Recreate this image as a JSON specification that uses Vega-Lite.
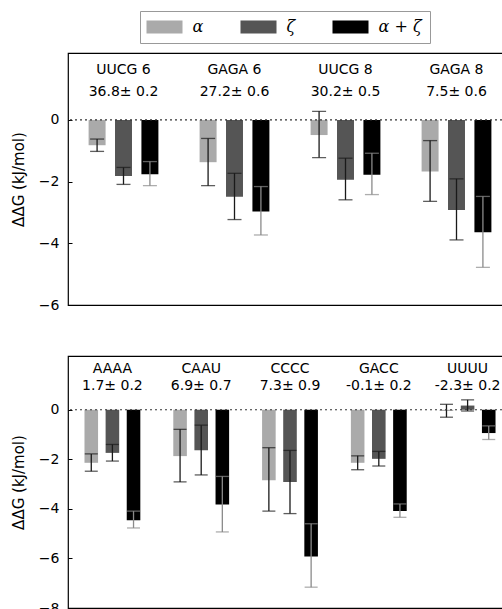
{
  "$schema": "https://vega.github.io/schema/vega-lite/v6.json",
  "padding": {"left": 10, "top": 10, "right": 0, "bottom": 0},
  "background": "white",
  "config": {
    "font": "DejaVu Sans",
    "view": {"stroke": "#000", "strokeWidth": 1.2},
    "axisY": {
      "domain": false, "grid": false, "tickSize": -4, "tickColor": "#000", "tickWidth": 1,
      "labelFontSize": 14, "labelColor": "#000", "labelPadding": 13,
      "titleFontSize": 15, "titleFontWeight": "normal", "titleColor": "#000", "titlePadding": 12
    },
    "legend": {
      "orient": "none", "legendX": 72, "legendY": -42, "direction": "horizontal", "columns": 3,
      "symbolType": "M-2.77,-1H2.77V1H-2.77Z", "symbolSize": 169, "symbolStrokeWidth": 0, "symbolOffset": 8.5,
      "columnPadding": 36, "labelOffset": 20,
      "labelFont": "DejaVu Serif", "labelFontStyle": "italic", "labelFontSize": 16, "labelColor": "#000",
      "strokeColor": "#999", "fillColor": "#fff", "padding": 8, "cornerRadius": 0
    }
  },
  "spacing": 42,
  "resolve": {"scale": {"x": "independent", "y": "independent", "xOffset": "independent"}},
  "vconcat": [
    {
      "width": 444, "height": 252,
      "layer": [
        {
          "data": {"values": [
            {"group": "UUCG 6", "series": "α", "value": -0.82, "lo": -1.02, "hi": -0.62},
            {"group": "UUCG 6", "series": "ζ", "value": -1.82, "lo": -2.09, "hi": -1.54},
            {"group": "UUCG 6", "series": "α + ζ", "value": -1.76, "lo": -2.13, "hi": -1.35},
            {"group": "GAGA 6", "series": "α", "value": -1.37, "lo": -2.13, "hi": -0.60},
            {"group": "GAGA 6", "series": "ζ", "value": -2.49, "lo": -3.23, "hi": -1.73},
            {"group": "GAGA 6", "series": "α + ζ", "value": -2.97, "lo": -3.73, "hi": -2.16},
            {"group": "UUCG 8", "series": "α", "value": -0.49, "lo": -1.22, "hi": 0.28},
            {"group": "UUCG 8", "series": "ζ", "value": -1.94, "lo": -2.59, "hi": -1.24},
            {"group": "UUCG 8", "series": "α + ζ", "value": -1.78, "lo": -2.42, "hi": -1.08},
            {"group": "GAGA 8", "series": "α", "value": -1.67, "lo": -2.64, "hi": -0.67},
            {"group": "GAGA 8", "series": "ζ", "value": -2.92, "lo": -3.89, "hi": -1.91},
            {"group": "GAGA 8", "series": "α + ζ", "value": -3.64, "lo": -4.78, "hi": -2.48}
          ]},
          "layer": [
            {
              "mark": {"type": "bar"},
              "encoding": {
                "x": {"field": "group", "type": "nominal", "axis": null, "scale": {"domain": ["UUCG 6", "GAGA 6", "UUCG 8", "GAGA 8"], "paddingInner": 0, "paddingOuter": 0}},
                "xOffset": {"field": "series", "type": "nominal", "scale": {"domain": ["α", "ζ", "α + ζ"], "paddingInner": 0.357, "paddingOuter": 0.78}},
                "y": {"field": "value", "type": "quantitative", "title": "ΔΔG (kJ/mol)", "scale": {"domain": [-6, 2.17], "nice": false, "zero": false}, "axis": {"values": [-6, -4, -2, 0]}},
                "color": {"field": "series", "type": "nominal", "title": null, "scale": {"domain": ["α", "ζ", "α + ζ"], "range": ["#aaaaaa", "#555555", "#000000"]}}
              }
            },
            {
              "mark": {"type": "rule", "strokeWidth": 1.3},
              "encoding": {
                "x": {"field": "group", "type": "nominal"},
                "xOffset": {"field": "series", "type": "nominal"},
                "y": {"field": "lo", "type": "quantitative", "title": "ΔΔG (kJ/mol)"},
                "y2": {"field": "hi"},
                "color": {"condition": {"test": "datum.series === 'α + ζ'", "value": "#8a8a8a"}, "value": "#1a1a1a"}
              }
            },
            {
              "mark": {"type": "tick", "orient": "horizontal", "size": 14, "thickness": 1.3},
              "encoding": {
                "x": {"field": "group", "type": "nominal"},
                "xOffset": {"field": "series", "type": "nominal"},
                "y": {"field": "lo", "type": "quantitative", "title": "ΔΔG (kJ/mol)"},
                "color": {"condition": {"test": "datum.series === 'α + ζ'", "value": "#8a8a8a"}, "value": "#1a1a1a"}
              }
            },
            {
              "mark": {"type": "tick", "orient": "horizontal", "size": 14, "thickness": 1.3},
              "encoding": {
                "x": {"field": "group", "type": "nominal"},
                "xOffset": {"field": "series", "type": "nominal"},
                "y": {"field": "hi", "type": "quantitative", "title": "ΔΔG (kJ/mol)"},
                "color": {"condition": {"test": "datum.series === 'α + ζ'", "value": "#8a8a8a"}, "value": "#1a1a1a"}
              }
            }
          ]
        },
        {
          "data": {"values": [{}]},
          "mark": {"type": "rule", "color": "#333", "strokeDash": [2, 3], "strokeWidth": 1.2},
          "encoding": {"y": {"datum": 0}}
        },
        {
          "data": {"values": [
            {"group": "UUCG 6", "name": "UUCG 6", "dg": "36.8± 0.2"},
            {"group": "GAGA 6", "name": "GAGA 6", "dg": "27.2± 0.6"},
            {"group": "UUCG 8", "name": "UUCG 8", "dg": "30.2± 0.5"},
            {"group": "GAGA 8", "name": "GAGA 8", "dg": "7.5± 0.6"}
          ]},
          "layer": [
            {
              "mark": {"type": "text", "fontSize": 14, "color": "#000", "baseline": "middle"},
              "encoding": {
                "x": {"field": "group", "type": "nominal"},
                "y": {"datum": 1.63},
                "text": {"field": "name"}
              }
            },
            {
              "mark": {"type": "text", "fontSize": 14, "color": "#000", "baseline": "middle"},
              "encoding": {
                "x": {"field": "group", "type": "nominal"},
                "y": {"datum": 0.895},
                "text": {"field": "dg"}
              }
            }
          ]
        }
      ]
    },
    {
      "width": 444, "height": 252,
      "layer": [
        {
          "data": {"values": [
            {"group": "AAAA", "series": "α", "value": -2.14, "lo": -2.48, "hi": -1.78},
            {"group": "AAAA", "series": "ζ", "value": -1.74, "lo": -2.07, "hi": -1.40},
            {"group": "AAAA", "series": "α + ζ", "value": -4.46, "lo": -4.77, "hi": -4.09},
            {"group": "CAAU", "series": "α", "value": -1.87, "lo": -2.91, "hi": -0.79},
            {"group": "CAAU", "series": "ζ", "value": -1.63, "lo": -2.63, "hi": -0.62},
            {"group": "CAAU", "series": "α + ζ", "value": -3.82, "lo": -4.93, "hi": -2.69},
            {"group": "CCCC", "series": "α", "value": -2.84, "lo": -4.09, "hi": -1.53},
            {"group": "CCCC", "series": "ζ", "value": -2.92, "lo": -4.19, "hi": -1.64},
            {"group": "CCCC", "series": "α + ζ", "value": -5.92, "lo": -7.16, "hi": -4.60},
            {"group": "GACC", "series": "α", "value": -2.14, "lo": -2.42, "hi": -1.86},
            {"group": "GACC", "series": "ζ", "value": -1.98, "lo": -2.27, "hi": -1.68},
            {"group": "GACC", "series": "α + ζ", "value": -4.09, "lo": -4.34, "hi": -3.80},
            {"group": "UUUU", "series": "α", "value": -0.05, "lo": -0.30, "hi": 0.22},
            {"group": "UUUU", "series": "ζ", "value": 0.17, "lo": -0.05, "hi": 0.40},
            {"group": "UUUU", "series": "α + ζ", "value": -0.94, "lo": -1.20, "hi": -0.65}
          ]},
          "layer": [
            {
              "mark": {"type": "bar"},
              "encoding": {
                "x": {"field": "group", "type": "nominal", "axis": null, "scale": {"domain": ["AAAA", "CAAU", "CCCC", "GACC", "UUUU"], "paddingInner": 0, "paddingOuter": 0}},
                "xOffset": {"field": "series", "type": "nominal", "scale": {"domain": ["α", "ζ", "α + ζ"], "paddingInner": 0.357, "paddingOuter": 0.78}},
                "y": {"field": "value", "type": "quantitative", "title": "ΔΔG (kJ/mol)", "scale": {"domain": [-8, 2.17], "nice": false, "zero": false}, "axis": {"values": [-8, -6, -4, -2, 0]}},
                "color": {"field": "series", "type": "nominal", "title": null, "scale": {"domain": ["α", "ζ", "α + ζ"], "range": ["#aaaaaa", "#555555", "#000000"]}}
              }
            },
            {
              "mark": {"type": "rule", "strokeWidth": 1.3},
              "encoding": {
                "x": {"field": "group", "type": "nominal"},
                "xOffset": {"field": "series", "type": "nominal"},
                "y": {"field": "lo", "type": "quantitative", "title": "ΔΔG (kJ/mol)"},
                "y2": {"field": "hi"},
                "color": {"condition": {"test": "datum.series === 'α + ζ'", "value": "#8a8a8a"}, "value": "#1a1a1a"}
              }
            },
            {
              "mark": {"type": "tick", "orient": "horizontal", "size": 13, "thickness": 1.3},
              "encoding": {
                "x": {"field": "group", "type": "nominal"},
                "xOffset": {"field": "series", "type": "nominal"},
                "y": {"field": "lo", "type": "quantitative", "title": "ΔΔG (kJ/mol)"},
                "color": {"condition": {"test": "datum.series === 'α + ζ'", "value": "#8a8a8a"}, "value": "#1a1a1a"}
              }
            },
            {
              "mark": {"type": "tick", "orient": "horizontal", "size": 13, "thickness": 1.3},
              "encoding": {
                "x": {"field": "group", "type": "nominal"},
                "xOffset": {"field": "series", "type": "nominal"},
                "y": {"field": "hi", "type": "quantitative", "title": "ΔΔG (kJ/mol)"},
                "color": {"condition": {"test": "datum.series === 'α + ζ'", "value": "#8a8a8a"}, "value": "#1a1a1a"}
              }
            }
          ]
        },
        {
          "data": {"values": [{}]},
          "mark": {"type": "rule", "color": "#333", "strokeDash": [2, 3], "strokeWidth": 1.2},
          "encoding": {"y": {"datum": 0}}
        },
        {
          "data": {"values": [
            {"group": "AAAA", "name": "AAAA", "dg": "1.7± 0.2"},
            {"group": "CAAU", "name": "CAAU", "dg": "6.9± 0.7"},
            {"group": "CCCC", "name": "CCCC", "dg": "7.3± 0.9"},
            {"group": "GACC", "name": "GACC", "dg": "-0.1± 0.2"},
            {"group": "UUUU", "name": "UUUU", "dg": "-2.3± 0.2"}
          ]},
          "layer": [
            {
              "mark": {"type": "text", "fontSize": 14, "color": "#000", "baseline": "middle"},
              "encoding": {
                "x": {"field": "group", "type": "nominal"},
                "y": {"datum": 1.64},
                "text": {"field": "name"}
              }
            },
            {
              "mark": {"type": "text", "fontSize": 14, "color": "#000", "baseline": "middle"},
              "encoding": {
                "x": {"field": "group", "type": "nominal"},
                "y": {"datum": 0.96},
                "text": {"field": "dg"}
              }
            }
          ]
        }
      ]
    }
  ]
}
